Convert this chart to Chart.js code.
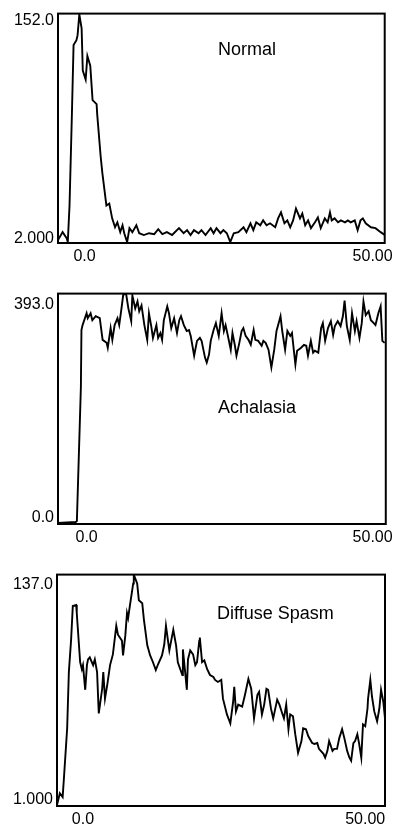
<!DOCTYPE html>
<html>
<head>
<meta charset="utf-8">
<script src="https://cdn.jsdelivr.net/npm/chart.js@4"></script>
<style>
  body { margin: 0; background: #fff; width: 397px; height: 828px; position: relative; overflow: hidden; }
  canvas { position: absolute; left: 0; }
</style>
</head>
<body>
<canvas id="normal" width="397" height="265" style="top:0px"></canvas>
<canvas id="achalasia" width="397" height="266" style="top:280px"></canvas>
<canvas id="spasm" width="397" height="267" style="top:561px"></canvas>
<script>
// Normal
const normalTime = [-4.6, -3.8, -3.1, -2.9, -2.6, -2.2, -1.9, -1.4, -1.2, -0.9, -0.5, -0.3, 0.2, 0.5, 1.0, 1.4, 2.1, 2.2, 2.8, 3.1,
    3.8, 4.3, 4.8, 5.3, 5.7, 6.2, 6.6, 6.9, 7.4, 7.8, 8.3, 9.0, 9.5, 10.3, 11.2, 12.1, 12.8, 13.5, 14.3, 15.2,
    16.4, 17.2, 17.8, 18.4, 19.0, 19.8, 20.3, 21.0, 21.9, 22.4, 22.9, 23.6, 24.1, 24.7, 25.3, 25.9, 26.7, 27.6, 28.1, 28.8,
    29.3, 29.8, 30.5, 31.0, 31.6, 32.2, 33.1, 33.6, 34.1, 34.7, 35.2, 35.7, 36.2, 36.7, 37.4, 37.8, 38.3, 38.8, 39.3, 40.0,
    40.5, 41.0, 41.7, 42.2, 42.6, 42.9, 43.4, 44.0, 44.5, 45.2, 45.7, 46.2, 46.9, 47.4, 47.9, 48.3, 48.8, 49.7, 50.5, 51.4, 52.1];
const normalValues = [3.9, 9.1, 5.2, 2.6, 26.5, 84.4, 131.4, 134.6, 137.9, 151.5, 142.3, 114.7, 108.9, 124.3, 117.9, 95.4, 92.8, 86.3, 58.7, 47.7,
    26.5, 27.8, 18.1, 12.3, 15.5, 9.1, 13.6, 8.4, 2.6, 11.7, 9.1, 13.6, 8.4, 7.2, 8.4, 7.8, 11.0, 7.8, 9.1, 7.2,
    11.7, 8.4, 10.4, 7.2, 10.4, 8.4, 10.4, 7.2, 11.7, 8.4, 11.7, 8.4, 10.4, 8.4, 2.6, 8.4, 9.1, 12.3, 9.1, 14.9,
    10.4, 15.5, 13.6, 16.8, 13.6, 14.9, 12.3, 18.1, 22.0, 14.9, 16.8, 12.3, 16.8, 24.5, 18.1, 21.3, 13.6, 16.8, 11.7, 15.5,
    18.7, 11.7, 18.1, 15.5, 22.0, 16.8, 18.1, 15.5, 16.8, 15.5, 16.8, 15.5, 16.8, 10.4, 16.8, 18.1, 14.9, 12.3, 11.7, 9.1, 7.2];
const normalYLabels = ['2.000', '152.0'];

// Achalasia
const achalasiaTime = [-5.0, -1.9, -1.7, -1.0, -0.9, -0.7, 0.0, 0.2, 0.7, 1.0, 1.6, 2.3, 2.8, 3.5, 3.7, 4.2, 4.5, 4.9, 5.4, 5.7,
    6.1, 6.4, 6.9, 7.3, 7.8, 8.0, 8.5, 8.9, 9.2, 9.6, 10.1, 10.6, 10.9, 11.3, 11.6, 12.2, 12.5, 12.9, 13.2, 13.5,
    14.1, 14.4, 14.8, 15.3, 15.8, 16.2, 16.5, 17.0, 17.5, 17.9, 18.2, 18.8, 19.3, 19.8, 20.1, 20.7, 21.0, 21.4, 21.7, 22.2,
    22.6, 23.1, 23.6, 24.0, 24.3, 24.7, 25.2, 25.5, 25.9, 26.2, 26.7, 27.1, 27.4, 27.8, 28.3, 28.7, 29.2, 29.5, 30.0, 30.6,
    30.9, 31.3, 31.8, 32.3, 32.8, 33.2, 33.9, 34.2, 34.7, 35.1, 35.6, 35.9, 36.5, 36.8, 37.5, 38.0, 38.4, 38.7, 39.2, 39.6,
    39.9, 40.5, 41.0, 41.3, 41.7, 42.2, 42.7, 43.1, 43.4, 43.9, 44.4, 44.8, 45.1, 45.5, 46.0, 46.4, 46.9, 47.2, 47.7, 48.1,
    48.4, 48.8, 49.3, 49.7, 50.2, 50.5, 51.0, 51.4, 51.7, 52.1];
const achalasiaValues = [1.7, 3.4, 5.0, 233.4, 330.9, 339.3, 359.4, 351.0, 359.4, 347.7, 354.4, 351.0, 314.1, 309.0, 300.6, 334.2, 314.1, 339.3, 351.0, 339.3,
    367.8, 391, 393, 367.8, 346.0, 390, 367.8, 379.6, 362.8, 372.8, 339.3, 314.1, 359.4, 337.6, 317.4, 339.3, 317.4, 325.8, 314.1, 347.7,
    371.2, 359.4, 334.2, 351.0, 325.8, 347.7, 354.4, 339.3, 329.2, 330.9, 320.8, 287.2, 312.4, 317.4, 312.4, 283.8, 275.4, 288.9, 312.4, 330.9,
    342.6, 320.8, 359.4, 329.2, 339.3, 320.8, 297.3, 325.8, 305.7, 287.2, 309.0, 329.2, 334.2, 320.8, 314.1, 305.7, 330.9, 314.1, 312.4, 304.0,
    312.4, 309.0, 297.3, 267.0, 297.3, 329.2, 354.4, 329.2, 297.3, 329.2, 320.8, 325.8, 272.1, 295.6, 300.6, 305.7, 304.0, 287.2, 312.4, 292.2,
    295.6, 292.2, 334.2, 342.6, 312.4, 334.2, 346.0, 322.5, 337.6, 346.0, 337.6, 354.4, 381.2, 337.6, 314.1, 359.4, 329.2, 346.0, 317.4, 342.6,
    379.6, 356.1, 362.8, 347.7, 342.6, 339.3, 359.4, 371.2, 312.4, 309.0];
const achalasiaYLabels = ['0.0', '393.0'];

// Diffuse Spasm
const spasmTime = [-4.6, -4.1, -3.6, -3.4, -2.8, -2.5, -2.1, -1.8, -1.2, -1.1, -0.5, -0.2, 0.0, 0.4, 0.7, 0.9, 1.2, 1.8, 2.1, 2.5,
    2.8, 3.4, 3.6, 3.9, 4.3, 4.8, 5.3, 5.9, 6.2, 6.9, 7.1, 7.5, 7.8, 8.0, 8.3, 8.9, 9.0, 9.6, 9.9, 10.5,
    10.8, 11.4, 11.9, 12.4, 12.9, 13.3, 14.0, 14.4, 14.7, 15.1, 15.3, 15.8, 16.0, 16.5, 16.8, 17.6, 17.7, 18.1, 18.4, 18.6,
    19.0, 19.5, 19.9, 20.2, 20.6, 20.7, 21.1, 21.5, 22.0, 22.5, 23.1, 23.4, 23.9, 24.5, 24.8, 25.5, 26.1, 26.6, 26.8, 27.1,
    27.5, 28.2, 28.7, 29.3, 29.8, 30.3, 30.9, 31.2, 31.7, 32.1, 32.5, 32.8, 33.3, 33.7, 34.4, 34.8, 35.3, 35.6, 36.0, 36.4,
    36.7, 37.2, 37.6, 38.1, 38.7, 39.0, 39.5, 39.9, 40.6, 41.0, 41.5, 41.8, 42.6, 42.9, 43.3, 43.6, 44.2, 44.5, 45.0, 45.4,
    45.9, 46.3, 46.8, 47.2, 47.5, 47.9, 48.2, 48.6, 48.9, 49.3, 49.6, 50.0, 50.4, 50.5, 50.9, 51.2, 51.6, 52.1, 52.5, 52.8,
    53.2, 53.5];
const spasmValues = [1.6, 8.5, 6.2, 16.0, 46.7, 79.7, 98.8, 118.5, 119.1, 114.4, 85.5, 81.4, 83.8, 69.3, 83.8, 87.2, 88.4, 83.8, 87.2, 79.7,
    55.4, 69.9, 79.7, 64.1, 72.2, 83.8, 90.1, 106.9, 101.7, 98.2, 89.5, 101.1, 114.4, 111.5, 118.5, 131.8, 137, 131.8, 121.9, 120.2,
    110.4, 95.3, 89.5, 85.5, 80.9, 84.3, 89.5, 95.9, 106.9, 97.1, 92.4, 101.1, 104.6, 95.3, 85.5, 78.0, 93.0, 79.7, 69.3, 87.2,
    92.4, 90.1, 83.8, 85.5, 98.2, 100.0, 85.5, 86.6, 81.4, 78.0, 76.8, 75.1, 73.9, 75.1, 64.1, 54.8, 49.6, 62.3, 71.0, 56.6,
    60.6, 59.4, 66.4, 75.7, 69.9, 52.5, 66.4, 68.1, 54.8, 60.6, 69.9, 69.3, 58.3, 52.5, 63.5, 60.6, 55.4, 52.5, 60.6, 46.1,
    54.8, 53.7, 43.2, 32.3, 39.2, 46.7, 46.1, 42.1, 38.0, 37.5, 38.0, 34.6, 31.7, 29.4, 33.4, 39.2, 33.4, 34.6, 34.6, 40.9,
    46.1, 40.9, 33.4, 29.4, 27.6, 38.0, 39.2, 43.2, 38.0, 29.4, 49.0, 47.9, 58.3, 64.1, 75.1, 65.2, 56.6, 50.8, 58.3, 69.3,
    62.3, 52.5];
const spasmYLabels = ['1.000', '137.0'];

const xTickValues = [0, 50];
const xTickLabels = ['0.0', '50.00'];

const FONT = '"Liberation Sans", Arial, Helvetica, sans-serif';

// box round the plot area
const frame = {
    id: 'frame',
    afterDatasetsDraw(chart) {
        const a = chart.chartArea;
        const ctx = chart.ctx;
        ctx.save();
        ctx.strokeStyle = '#000';
        ctx.lineWidth = 2;
        ctx.strokeRect(a.left, a.top, a.right - a.left, a.bottom - a.top);
        ctx.restore();
    }
};

// name of the panel, written inside the box
const panelName = {
    id: 'panelName',
    afterDraw(chart, args, opts) {
        const ctx = chart.ctx;
        ctx.save();
        ctx.font = '18px ' + FONT;
        ctx.fillStyle = '#000';
        ctx.textBaseline = 'alphabetic';
        ctx.fillText(opts.text, opts.x, opts.y);
        ctx.restore();
    }
};

function makePanel(id, time, values, yLabels, p) {
    new Chart(id, {
        type: 'line',
        data: {
            datasets: [{
                data: time.map((t, i) => ({ x: t, y: values[i] })),
                borderColor: '#000',
                borderWidth: 1.9,
                pointRadius: 0,
                tension: 0,
                fill: false
            }]
        },
        options: {
            responsive: false,
            animation: false,
            devicePixelRatio: 1,
            layout: { padding: { top: 10, right: p.padRight, left: 0, bottom: 0 } },
            plugins: {
                legend: { display: false },
                tooltip: { enabled: false },
                panelName: { text: p.title, x: p.titleX, y: p.titleY }
            },
            scales: {
                x: {
                    type: 'linear',
                    min: p.xMin,
                    max: p.xMax,
                    grid: { display: false, drawTicks: false },
                    border: { display: false },
                    afterBuildTicks: axis => { axis.ticks = xTickValues.map(v => ({ value: v })); },
                    afterFit: axis => { axis.height = 22; },
                    ticks: {
                        autoSkip: false,
                        maxRotation: 0,
                        padding: 4,
                        color: '#000',
                        font: { family: FONT, size: 16 },
                        callback: (v, i) => xTickLabels[i]
                    }
                },
                y: {
                    min: p.yMin,
                    max: p.yMax,
                    grid: { display: false, drawTicks: false },
                    border: { display: false },
                    afterBuildTicks: axis => { axis.ticks = p.yTickAt.map(v => ({ value: v })); },
                    afterFit: axis => { axis.width = p.axisWidth; },
                    ticks: {
                        autoSkip: false,
                        padding: 4,
                        color: '#000',
                        font: { family: FONT, size: 16 },
                        callback: (v, i) => yLabels[i]
                    }
                }
            }
        },
        plugins: [frame, panelName]
    });
}

makePanel('normal', normalTime, normalValues, normalYLabels, {
    xMin: -4.6, xMax: 52.1, yMin: 2, yMax: 152, yTickAt: [4.6, 147.5],
    axisWidth: 58, padRight: 10, title: 'Normal', titleX: 218, titleY: 55
});

makePanel('achalasia', achalasiaTime, achalasiaValues, achalasiaYLabels, {
    xMin: -5.0, xMax: 52.3, yMin: 0, yMax: 393, yTickAt: [10.1, 374.5],
    axisWidth: 58, padRight: 9, title: 'Achalasia', titleX: 218, titleY: 133
});

makePanel('spasm', spasmTime, spasmValues, spasmYLabels, {
    xMin: -4.6, xMax: 53.5, yMin: 1, yMax: 137, yTickAt: [4.5, 131.2],
    axisWidth: 57, padRight: 12, title: 'Diffuse Spasm', titleX: 217, titleY: 58
});
</script>
</body>
</html>
